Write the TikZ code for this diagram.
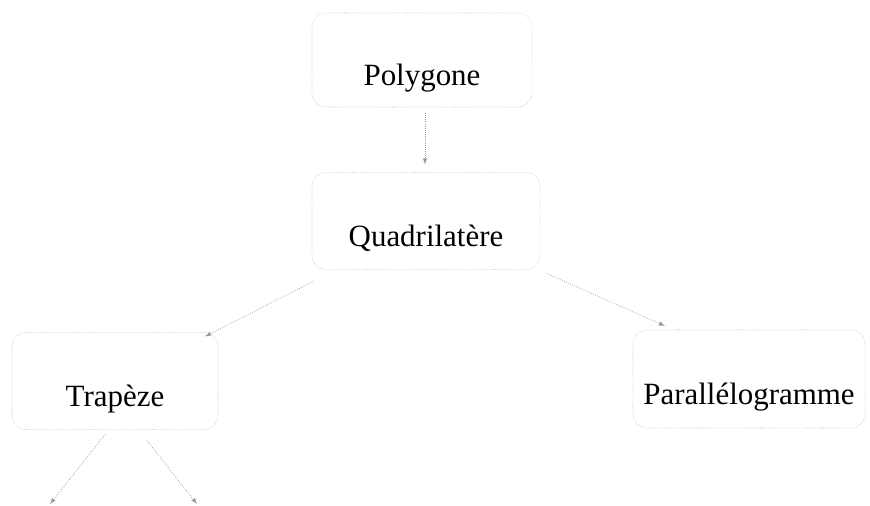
\documentclass[tikz,border=0pt]{standalone}
\usepackage{fontspec}
\setmainfont{Liberation Serif}
\usepackage{xcolor}
\usepackage{tikz}
\usetikzlibrary{calc}
\tikzset{%Global config
	>=latex,
	color = black ,
	%Styles
	Box/.style={
		draw=black!30,
		densely dotted,
		rounded corners=0.35cm,
		inner sep=0pt,
		outer sep=0pt,
		text height=1.4cm,
		text depth=0.15cm,
		font=\fontsize{22}{26}\selectfont,
		text=black,
	},
	Link/.style={
		->,
		draw=black!40,
		densely dotted,
		line width=0.5pt,
	}
}
\begin{document}
\begin{tikzpicture}[x=0.025cm,y=-0.025cm]
		\useasboundingbox (0,0) rectangle (870,506);
		% Boxes
		\node[Box, minimum width=5.5cm,  minimum height=2.35cm] (poly) at (422,60)  {Polygone};
		\node[Box, minimum width=5.7cm,  minimum height=2.43cm] (quad) at (426,221) {Quadrilatère};
		\node[Box, minimum width=5.15cm, minimum height=2.43cm] (trap) at (115,381) {Trapèze};
		\node[Box, minimum width=5.8cm,  minimum height=2.45cm] (para) at (749,379) {Parallélogramme};
		% Free ends at the bottom
		\coordinate (trapL) at (50,504);
		\coordinate (trapR) at (197,504);
		% Links
		\draw[Link] ($(poly.south)+(3,6)$) -- ($(quad.north)+(-1,-8)$);
		\draw[Link] ($(quad.south west)+(1,12)$) -- ($(trap.north east)+(-13,4)$);
		\draw[Link] ($(quad.south east)+(7,4)$) -- ($(para.north west)+(32,-4)$);
		\draw[Link] ($(trap.south)+(-10,5)$) -- (trapL);
		\draw[Link] ($(trap.south)+(32,11)$) -- (trapR);
	\end{tikzpicture}
\end{document}
